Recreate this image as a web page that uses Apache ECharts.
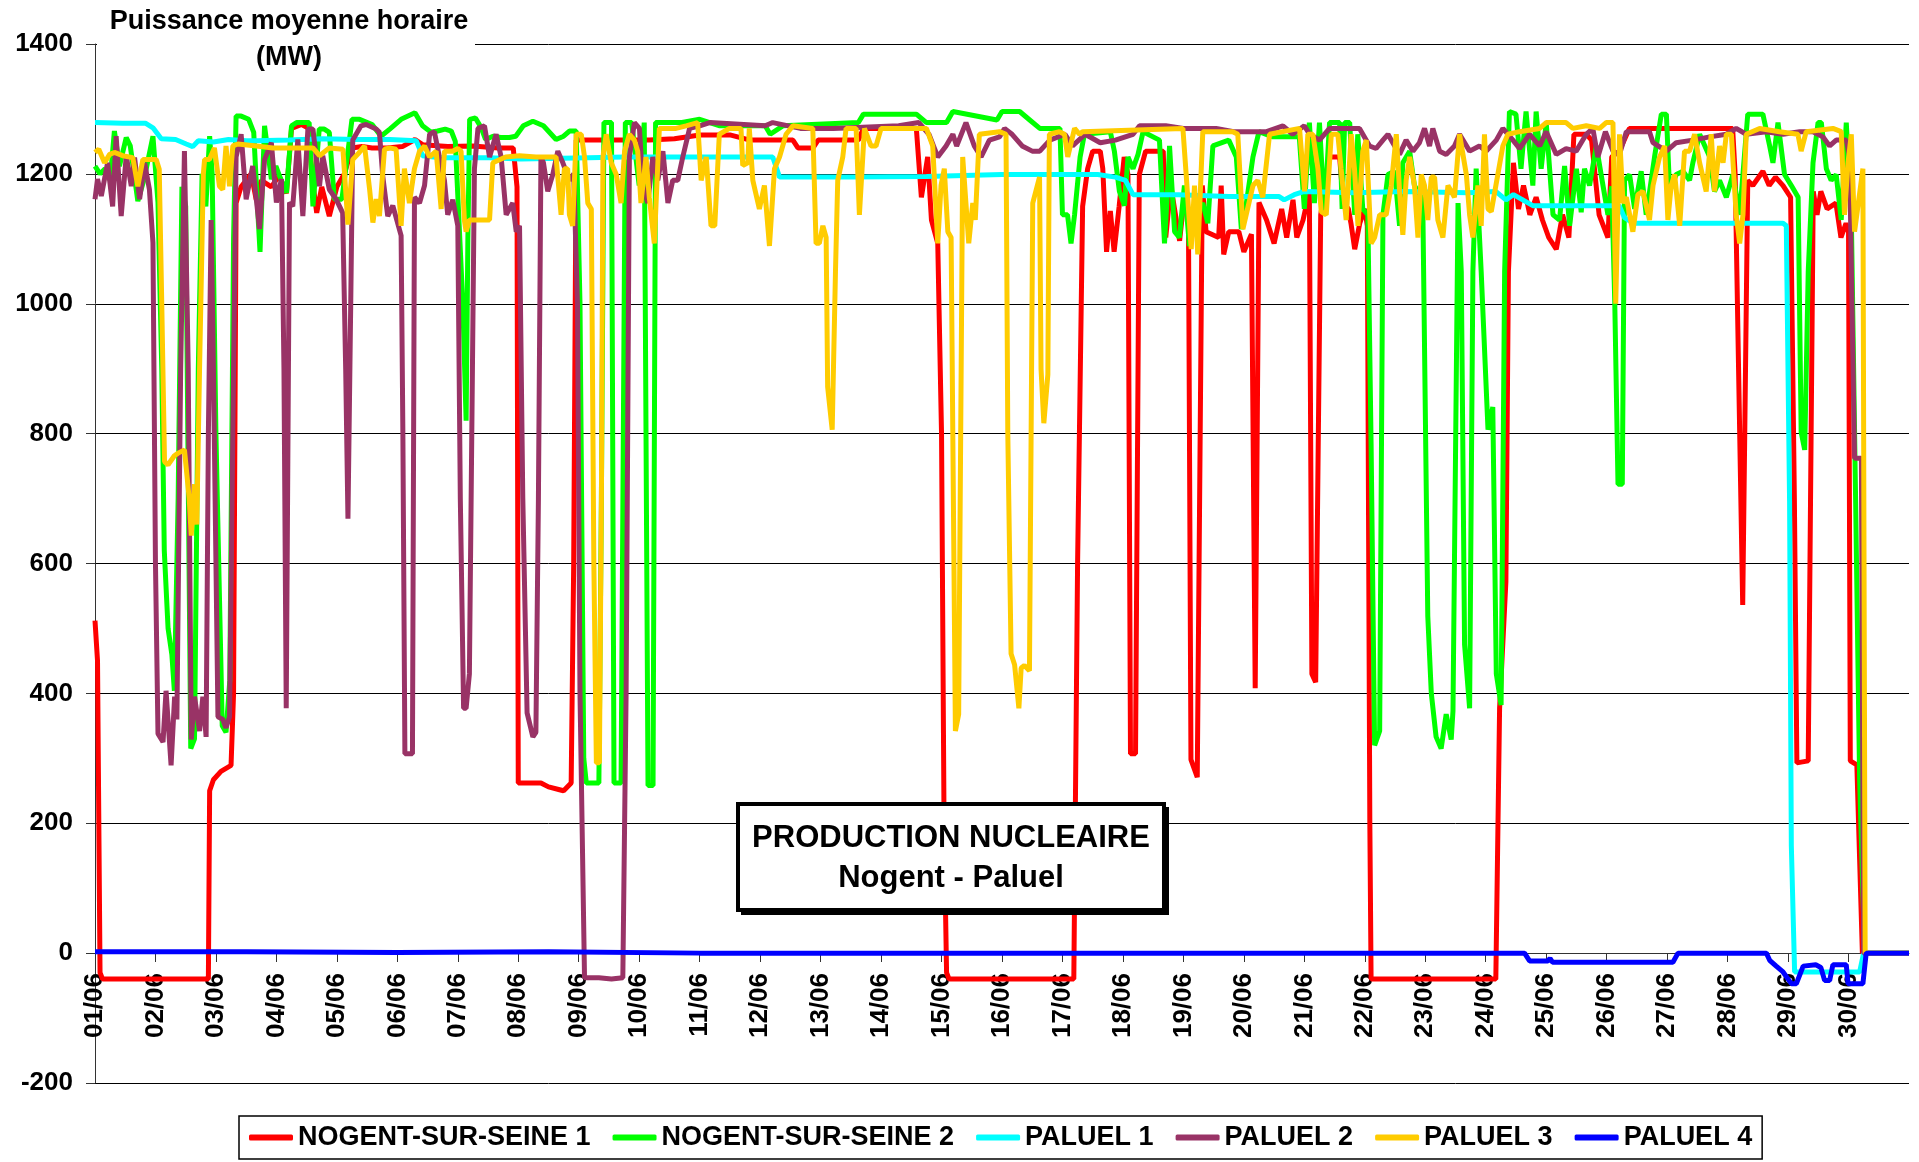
<!DOCTYPE html>
<html>
<head>
  <meta charset="utf-8">
  <title>Production nucleaire Nogent - Paluel</title>
  <script src="https://cdn.jsdelivr.net/npm/echarts@6/dist/echarts.min.js"></script>
  <style>
    html, body { margin: 0; padding: 0; background: #fff; }
    #main { width: 1919px; height: 1162px; }
  </style>
</head>
<body>
  <div id="main"></div>
  <script type="text/javascript">
    // x = heures depuis le 01/06 00h, y = MW
    var dayLabels = ['01/06', '02/06', '03/06', '04/06', '05/06', '06/06', '07/06', '08/06', '09/06', '10/06',
      '11/06', '12/06', '13/06', '14/06', '15/06', '16/06', '17/06', '18/06', '19/06', '20/06',
      '21/06', '22/06', '23/06', '24/06', '25/06', '26/06', '27/06', '28/06', '29/06', '30/06'];
    var yTicks = [-200, 0, 200, 400, 600, 800, 1000, 1200, 1400];

    var nogent1 = [[0,512],[1,450],[2,-30],[3,-40],[45,-40],[45.5,250],[47,267],[50,280],[54,289],[55,400],[56,1155],[58,1180],[62,1200],[64,1160],[66,1190],[70,1180],[73,1197],[76,1170],[78,1270],[82,1276],[85,1270],[86,1200],[88,1140],[90,1180],[93,1135],[96,1180],[99,1200],[102,1240],[106,1242],[110,1240],[116,1240],[122,1242],[127,1253],[130,1245],[140,1242],[150,1243],[160,1240],[166,1240],[167.5,1180],[168,262],[172,262],[177,262],[180,256],[184,252],[186,250],[189,262],[190,600],[191,1252],[200,1252],[210,1252],[220,1252],[230,1254],[240,1260],[252,1260],[260,1252],[277,1252],[279,1240],[285,1240],[287,1252],[303,1252],[305,1270],[326,1270],[328,1164],[330.5,1226],[332,1129],[334.5,1093],[336,800],[337,200],[338,-30],[339,-40],[388.5,-40],[390,600],[392,1150],[394,1208],[396,1235],[399,1235],[400,1208],[401.5,1080],[403,1143],[404.5,1080],[406.5,1150],[408.5,1226],[410,1199],[411,307],[413,307],[414.5,1199],[417,1235],[424,1235],[425,1102],[427,1182],[430.5,1097],[432.5,1170],[434,1137],[435,298],[437.5,271],[439.5,1182],[441,1111],[446,1102],[447,1182],[448,1076],[450,1111],[454,1111],[456,1080],[459,1107],[460.5,408],[462,1156],[465,1129],[468,1093],[471,1146],[473,1102],[475.5,1160],[477,1102],[479.5,1129],[482,1173],[483,430],[484.5,417],[486.5,1137],[490,1226],[494,1226],[495.5,1155],[497.5,1146],[498.5,1124],[500,1084],[502,1124],[504,1146],[505,1120],[506,200],[506.5,-40],[556,-40],[557.5,377],[560,572],[561,1049],[563,1217],[565,1146],[567,1182],[569.5,1137],[572,1164],[574.5,1129],[577,1102],[580,1084],[582.5,1137],[585,1102],[587,1261],[592,1261],[594,1252],[597,1137],[600.5,1102],[602,1226],[605,1235],[609,1270],[620,1270],[630,1270],[640,1270],[650,1270],[651,1199],[654,536],[656,1190],[658,1182],[662,1204],[664.5,1182],[667,1195],[670,1182],[673,1164],[674.5,700],[675.5,293],[680,296],[682,1173],[683.5,1137],[685,1173],[687.5,1146],[691,1155],[693,1102],[695,1124],[696,1110],[696.7,296],[699.3,290],[701.5,0],[720,0]];

    var nogent2 = [[0,1212],[2,1200],[4,1208],[6,1190],[7.7,1266],[9.7,1212],[12.4,1256],[14,1243],[17,1158],[19.5,1192],[23,1258],[25,1156],[26.5,900],[27.5,620],[29,500],[30.5,460],[31.5,404],[33,700],[34.5,1180],[36,1150],[38,315],[39.5,330],[41,900],[42.5,1200],[44,1150],[45.5,1258],[46.5,1200],[48,800],[50.5,350],[52,340],[53.5,420],[55,1100],[56,1289],[58,1289],[61,1284],[63,1264],[64.5,1150],[65.5,1080],[67.3,1274],[70,1192],[71.8,1212],[73.2,1197],[76,1171],[78,1274],[80,1279],[85,1279],[86.5,1150],[89,1269],[91,1269],[93,1264],[95,1161],[98,1161],[102,1284],[105,1284],[110,1276],[113.5,1258],[117,1269],[121.5,1284],[127,1294],[130,1274],[133.4,1264],[136,1266],[139,1269],[141.4,1266],[143,1250],[146,1000],[147.3,820],[148,1100],[148.7,1284],[151,1286],[153.3,1271],[155,1253],[158,1258],[161,1256],[164.5,1256],[167,1258],[170,1274],[173.8,1281],[178,1274],[183,1253],[186,1258],[188.3,1266],[191,1266],[192.5,1000],[194,300],[195,262],[200,262],[201,700],[202,1279],[205,1279],[206,262],[208.8,262],[210.5,1279],[213,1279],[216,1182],[218,1279],[219,600],[219.5,258],[221.5,258],[222.5,1279],[233,1279],[240,1284],[248,1274],[266,1274],[268,1261],[273,1274],[303,1279],[305,1292],[326,1292],[330,1279],[338,1279],[340.5,1296],[358,1283],[360,1296],[367,1296],[371,1283],[375,1270],[383,1270],[384,1137],[386,1137],[387.4,1093],[388.8,1137],[391,1226],[392.7,1261],[403,1265],[404.6,1235],[406.6,1173],[408.6,1151],[410,1226],[412,1208],[414,1230],[416,1265],[422.5,1252],[424.5,1093],[425.8,1182],[426.5,1243],[428.5,1111],[430.4,1102],[432.4,1182],[434.4,1089],[437,1137],[439.7,1155],[441.7,1124],[443.7,1243],[450,1252],[453,1226],[455,1115],[457,1155],[459.6,1226],[462,1265],[467.5,1257],[478,1257],[480,1146],[482,1279],[484,1155],[486,1279],[488,1137],[490,1279],[494,1279],[495,1146],[496,1279],[498,1279],[500,1137],[501.2,1261],[503.2,1146],[505.2,1137],[506.5,784],[507.9,320],[509.9,342],[511.2,1137],[513.2,1199],[515.8,1204],[517.8,1120],[519.1,1217],[521.8,1235],[523.7,1182],[527,1160],[529,519],[530.4,400],[532.3,333],[534.3,315],[536.3,368],[538.3,329],[539,373],[541,1155],[542.3,1049],[543.6,475],[545.6,377],[546.9,1049],[548.2,1208],[550.2,1049],[552.9,806],[554.8,841],[556.2,430],[558.1,382],[559.5,1049],[561.4,1296],[564,1292],[566,1208],[568,1296],[570.7,1182],[572,1296],[574,1208],[576,1279],[578.7,1137],[581.3,1129],[583.3,1212],[585.3,1120],[588,1208],[589.9,1141],[591.2,1208],[593.2,1182],[595.9,1243],[597.8,1199],[600.5,1137],[602,1181],[603.2,1005],[604.5,722],[606.2,722],[607.1,1190],[609.1,1199],[611.1,1146],[613.7,1204],[615.7,1137],[619,1226],[621.7,1292],[623.7,1292],[625,1173],[627.6,1199],[630.3,1204],[632.9,1190],[634.2,1217],[636.9,1261],[640.9,1226],[642.8,1173],[644.8,1190],[647.5,1164],[650.1,1199],[652.8,1137],[656,1292],[662,1292],[664.7,1243],[666,1217],[668,1279],[670.6,1199],[673.3,1182],[676,1164],[677.2,802],[678.6,775],[680,1049],[681.9,1217],[683.9,1279],[685.2,1279],[687.2,1208],[689.1,1190],[691.1,1199],[693.1,1129],[695.1,1279],[697.1,1137],[698.8,700],[700.4,267],[702.4,0],[720,0]];

    var paluel1 = [[0,1279],[11,1278],[20,1278],[23,1271],[26.3,1254],[32,1253],[36.2,1246],[38.8,1242],[41,1251],[47,1249],[53,1253],[60,1251],[64,1251],[77,1252],[90,1254],[104,1253],[117,1253],[127.5,1251],[130,1228],[137,1225],[156.6,1225],[169,1223],[196,1225],[210,1226],[240,1226],[255,1226],[269,1226],[271.7,1195],[300,1195],[330,1196],[360,1199],[380,1199],[398,1199],[405,1195],[409,1190],[412,1168],[430,1168],[450,1165],[470,1165],[472,1160],[476,1168],[480,1173],[500,1171],[520,1173],[545,1171],[556,1173],[560,1160],[563,1168],[570.7,1151],[585,1151],[597,1151],[605,1151],[607,1133],[610.5,1124],[640,1124],[670,1124],[671.3,1120],[672.6,696],[673.3,165],[674.6,-29],[700.4,-29],[702,0],[720,0]];

    var paluel2 = [[0,1161],[1,1192],[2.5,1166],[5,1217],[7,1150],[8.4,1258],[10.4,1135],[12.4,1228],[14.4,1181],[15.7,1225],[17.7,1161],[19.7,1217],[21.6,1176],[23,1094],[24,600],[25,338],[27,325],[28.2,404],[30.2,289],[31.6,395],[32.5,360],[34,900],[35.5,1235],[37,900],[38.2,329],[39.5,395],[41.5,342],[42.8,395],[44.1,333],[45,800],[46.1,1129],[47,900],[48.8,364],[50.7,360],[52,347],[53.4,364],[55,900],[56,1226],[58,1261],[60,1161],[62.6,1212],[65.3,1115],[67.3,1222],[70,1248],[72,1156],[74,1192],[75,900],[75.9,377],[77.2,1156],[78.5,1150],[80.5,1253],[82.5,1135],[84.5,1269],[86.5,1269],[89.1,1181],[90.4,1228],[93,1176],[95.7,1161],[98.3,1140],[99.5,900],[100.4,669],[101.5,1000],[102.3,1252],[105.6,1274],[107.6,1276],[111.6,1269],[112.9,1264],[114.2,1197],[116.2,1135],[118.2,1151],[121.5,1105],[122.2,800],[123,307],[126,307],[126.8,1164],[128.8,1155],[130.8,1182],[132.8,1261],[134.7,1265],[136.7,1226],[138.7,1190],[140,1137],[142,1160],[144,1120],[145,700],[146.3,377],[147.3,377],[148.6,430],[150.6,1208],[152,1270],[154.6,1274],[156.6,1226],[159.2,1261],[161.2,1226],[163.2,1137],[165.8,1155],[167.2,1111],[168.5,1120],[169.8,700],[171.5,370],[173.8,333],[175,340],[176,700],[177,1226],[178,1217],[179.7,1173],[181.7,1199],[183.7,1235],[185.7,1217],[188.3,1190],[190,1200],[191.5,1000],[192.5,400],[194.3,-38],[200,-38],[205,-40],[209.5,-38],[210.8,400],[212.1,1226],[214.1,1279],[216.1,1270],[217.4,1182],[219.4,1155],[221.4,1226],[223.4,1190],[225.4,1235],[227.4,1155],[229.3,1190],[231.3,1190],[233.3,1226],[236,1270],[240,1274],[244,1279],[266,1274],[269,1279],[280,1270],[293,1270],[319,1274],[327,1279],[331,1261],[334.5,1226],[337.8,1243],[340.5,1261],[342,1243],[345.7,1279],[349,1243],[351.7,1226],[355,1252],[359,1257],[361,1270],[364,1261],[368,1243],[372,1235],[375,1235],[379,1252],[385,1261],[388,1243],[393,1261],[399,1248],[405,1252],[412,1261],[414.6,1274],[425,1274],[432,1270],[445,1270],[452,1265],[465,1265],[471.5,1274],[475.4,1261],[480,1274],[482.1,1261],[486,1252],[490,1270],[501.9,1270],[505.9,1243],[508.5,1239],[511.2,1252],[513.2,1261],[515.1,1248],[517.8,1230],[520.4,1252],[523.1,1235],[525.7,1248],[527.7,1270],[529.7,1243],[531,1270],[533.7,1235],[536.3,1230],[539.6,1243],[541.6,1261],[545.6,1235],[549.5,1243],[552.2,1235],[556.2,1252],[558.8,1270],[562.8,1252],[565.4,1239],[569.4,1261],[573.4,1243],[576,1265],[580,1230],[583.9,1239],[587.9,1235],[591.9,1261],[594.5,1270],[596.5,1226],[599.5,1265],[602.5,1235],[605.1,1230],[607.8,1265],[617,1265],[618.4,1248],[623.7,1235],[627.6,1248],[634.2,1252],[640.9,1257],[647.5,1261],[651.4,1270],[655.4,1261],[663.4,1265],[670,1261],[676.6,1265],[681.9,1265],[685.8,1257],[688.5,1243],[691.1,1252],[695.1,1252],[696.4,1226],[698.4,762],[701.1,762],[702,0],[720,0]];

    var paluel3 = [[0,1233],[1.5,1238],[3.8,1217],[5.8,1230],[7.7,1233],[11,1228],[15,1225],[17,1181],[19,1222],[22,1222],[24.3,1222],[25.5,1207],[26.5,1000],[27.6,757],[29,752],[31.5,766],[33,770],[35.5,775],[37.4,700],[38.2,643],[39.5,722],[40.4,660],[41.5,900],[43,1200],[43.5,1222],[45.4,1222],[47.4,1240],[49.4,1181],[50.7,1176],[52,1243],[53.4,1181],[54.7,1243],[56.7,1246],[64,1243],[70.6,1240],[77.2,1240],[86.5,1240],[89.1,1228],[93,1240],[98.4,1238],[100.4,1122],[102.3,1222],[104.9,1233],[107,1243],[109,1176],[110.3,1125],[111.6,1161],[112.9,1135],[114.9,1238],[117,1240],[119.5,1238],[121.5,1120],[122.8,1208],[124.8,1155],[126.8,1208],[128.8,1235],[130.8,1243],[132.8,1226],[135.4,1235],[137.4,1146],[138.7,1235],[142,1235],[144,1239],[145.3,1235],[146.6,1129],[147.3,1111],[148.6,1129],[156.6,1129],[157.9,1217],[163,1226],[168.5,1228],[175,1226],[183,1226],[185,1137],[186.3,1208],[187.6,1208],[188.3,1137],[189.6,1120],[191,1261],[193,1261],[194.3,1226],[195.6,1155],[197,1146],[198,600],[199,293],[200.2,293],[201,700],[201.6,1226],[202.9,1261],[204.9,1217],[206.9,1199],[208.8,1155],[210.2,1235],[212.1,1261],[214.1,1252],[215.4,1235],[216.7,1155],[218.7,1226],[220,1164],[222,1093],[224,1270],[230.6,1270],[234.6,1274],[239.2,1279],[240.6,1190],[242.6,1226],[244.5,1120],[246,1120],[247.8,1261],[251.8,1270],[256.4,1270],[257.1,1213],[259.1,1217],[259.7,1270],[261.1,1190],[263.7,1146],[265.7,1182],[267.7,1089],[269.7,1208],[271.7,1226],[274.3,1261],[277,1274],[284.9,1270],[286.2,1093],[287.5,1093],[288.9,1120],[290.2,1102],[290.8,872],[292.6,806],[293.9,1049],[294.8,1190],[296.8,1226],[298.1,1270],[302.1,1270],[303.4,1137],[305.4,1270],[308,1243],[310,1243],[312,1270],[324.6,1270],[330,1270],[332.5,1243],[334.5,1093],[335.8,1182],[337.1,1208],[338.5,1111],[339.8,1102],[341.5,342],[342.8,368],[344.4,1226],[346.8,1093],[348.4,1155],[349.4,1129],[351,1261],[359,1265],[361.6,1261],[362.3,800],[363.6,461],[365,444],[366.7,377],[367.6,439],[368.9,443],[370.9,435],[372.2,1155],[374.9,1195],[375.5,899],[376.6,816],[378.2,891],[378.8,1261],[382.8,1265],[384.8,1261],[386.1,1226],[388.8,1270],[390.8,1261],[392,1265],[431.8,1270],[433.1,1199],[435.1,1084],[436.4,1182],[437.7,1076],[439.7,1265],[451.6,1265],[453.6,1261],[455.6,1115],[459.6,1182],[461.5,1190],[463.5,1164],[466.2,1261],[478.1,1270],[480.1,1173],[481.4,1261],[483.4,1261],[485.4,1208],[486.7,1142],[488.7,1137],[490.7,1261],[493.3,1261],[494.6,1208],[496.6,1129],[498.6,1261],[499.9,1208],[501.3,1120],[503.2,1235],[504.6,1252],[506.5,1093],[507.9,1102],[509.9,1137],[512.5,1137],[514.5,1182],[516.5,1261],[517.8,1173],[519.1,1106],[520.4,1190],[521.8,1226],[523.7,1182],[525.1,1102],[526.4,1199],[527.7,1182],[529,1129],[530.4,1195],[531.7,1195],[533,1129],[535,1102],[537,1182],[539.6,1164],[541.6,1261],[544.3,1199],[545.6,1137],[546.9,1102],[548.9,1182],[550.2,1120],[551.5,1261],[552.9,1146],[554.2,1142],[556.8,1199],[558.8,1243],[560.8,1261],[565.4,1265],[573.4,1270],[576,1279],[583.9,1279],[586.6,1270],[591.9,1274],[597.2,1270],[599.8,1279],[602.5,1279],[603.6,1000],[605.1,1261],[606.5,1155],[607.8,1164],[610.4,1111],[612.4,1168],[614.4,1173],[617,1129],[618.4,1182],[621,1226],[623,1243],[624.3,1129],[625.6,1182],[627,1199],[629,1120],[630.9,1235],[632.9,1235],[634.9,1261],[636.9,1217],[639.5,1173],[641.5,1261],[642.8,1173],[644.8,1243],[646.2,1217],[647.5,1261],[649.5,1261],[651.4,1137],[652.8,1093],[654.1,1137],[655.4,1261],[660.7,1270],[668.6,1265],[675.9,1261],[677.2,1235],[679.2,1265],[689.8,1270],[693.1,1265],[694.4,1137],[695.8,1217],[697.1,1261],[698.4,1111],[701.7,1208],[702.6,0],[720,0]];

    var paluel4 = [[0,2],[60,2],[120,1],[180,2],[240,0],[567.4,0],[569.4,-12],[576.7,-12],[577.5,-8],[578.5,-14],[626.3,-14],[628.3,0],[663.4,0],[664.7,-11],[667.3,-20],[670,-29],[673.3,-47],[675.3,-47],[678,-20],[683,-18],[685,-22],[686.5,-42],[688.5,-42],[689.8,-18],[695.1,-18],[695.8,-47],[701.7,-47],[703,0],[720,0]];

    var seriesNames = ['NOGENT-SUR-SEINE 1', 'NOGENT-SUR-SEINE 2', 'PALUEL 1', 'PALUEL 2', 'PALUEL 3', 'PALUEL 4'];
    var seriesColors = ['#ff0000', '#00ff00', '#00ffff', '#993366', '#ffcc00', '#0000ff'];
    var seriesData = [nogent1, nogent2, paluel1, paluel2, paluel3, paluel4];

    var FONT = '"Liberation Sans", Arial, sans-serif';

    var myChart = echarts.init(document.getElementById('main'));

    var series = [];
    for (var i = 0; i < seriesNames.length; i++) {
      series.push({
        name: seriesNames[i],
        type: 'line',
        data: seriesData[i],
        showSymbol: false,
        symbol: 'none',
        smooth: false,
        lineStyle: { color: seriesColors[i], width: 5 },
        itemStyle: { color: seriesColors[i] }
      });
    }

    var option = {
      animation: false,
      backgroundColor: '#ffffff',
      grid: { left: 95, right: 10, top: 44, height: 1039, containLabel: false },
      legend: {
        data: seriesNames,
        left: 239,
        top: 1116,
        padding: [8, 10],
        itemGap: 22,
        itemWidth: 44,
        itemHeight: 6,
        icon: 'roundRect',
        borderColor: '#000',
        borderWidth: 1.5,
        backgroundColor: '#fff',
        textStyle: { fontFamily: FONT, fontSize: 27, fontWeight: 'bold', color: '#000' }
      },
      xAxis: {
        type: 'value',
        min: 0,
        max: 720,
        interval: 24,
        // l'axe des dates croise l'axe des MW a 0
        offset: -130,
        axisLine: { onZero: false, lineStyle: { color: '#333', width: 1 } },
        axisTick: { show: true, inside: false, length: 9, lineStyle: { color: '#333' } },
        axisLabel: {
          rotate: 90,
          margin: 20,
          fontFamily: FONT,
          fontSize: 26,
          fontWeight: 'bold',
          color: '#000',
          showMaxLabel: false,
          formatter: function (v) {
            var idx = Math.round(v / 24);
            return dayLabels[idx] || '';
          }
        },
        splitLine: { show: false }
      },
      yAxis: {
        type: 'value',
        min: yTicks[0],
        max: yTicks[yTicks.length - 1],
        interval: 200,
        axisLine: { show: true, onZero: false, lineStyle: { color: '#333', width: 1 } },
        axisTick: { show: true, inside: false, length: 9, lineStyle: { color: '#333' } },
        axisLabel: {
          margin: 22, fontFamily: FONT, fontSize: 26, fontWeight: 'bold', color: '#000',
          formatter: function (v) { return String(v); }
        },
        splitLine: { show: true, lineStyle: { color: '#000', width: 1 } }
      },
      graphic: [
        { type: 'rect', z: 100, shape: { x: 97, y: 0, width: 378, height: 72 }, style: { fill: '#fff' } },
        { type: 'text', z: 101, x: 289, y: 22, style: { text: 'Puissance moyenne horaire', fontFamily: FONT, fontSize: 27, fontWeight: 'bold', fill: '#000', align: 'center', verticalAlign: 'middle' } },
        { type: 'text', z: 101, x: 289, y: 58, style: { text: '(MW)', fontFamily: FONT, fontSize: 27, fontWeight: 'bold', fill: '#000', align: 'center', verticalAlign: 'middle' } },
        { type: 'rect', z: 100, shape: { x: 741, y: 807, width: 428, height: 108 }, style: { fill: '#000' } },
        { type: 'rect', z: 101, shape: { x: 738, y: 804, width: 426, height: 106 }, style: { fill: '#fff', stroke: '#000', lineWidth: 4 } },
        { type: 'text', z: 102, x: 951, y: 838, style: { text: 'PRODUCTION NUCLEAIRE', fontFamily: FONT, fontSize: 31, fontWeight: 'bold', fill: '#000', align: 'center', verticalAlign: 'middle' } },
        { type: 'text', z: 102, x: 951, y: 878, style: { text: 'Nogent - Paluel', fontFamily: FONT, fontSize: 31, fontWeight: 'bold', fill: '#000', align: 'center', verticalAlign: 'middle' } }
      ],
      series: series
    };

    myChart.setOption(option);
  </script>
</body>
</html>
